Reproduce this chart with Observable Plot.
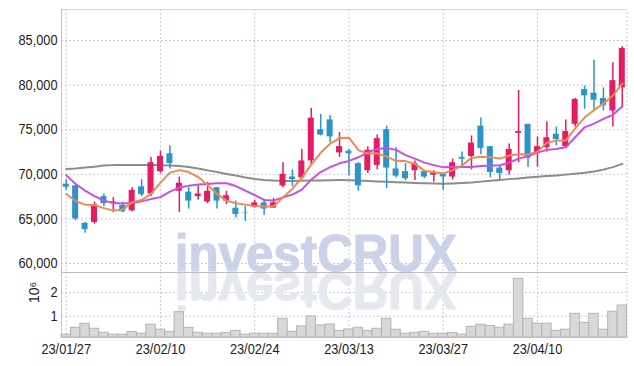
<!DOCTYPE html>
<html>
<head>
<meta charset="utf-8">
<script src="https://cdn.jsdelivr.net/npm/d3@7"></script>
<script src="https://cdn.jsdelivr.net/npm/@observablehq/plot@0.6"></script>
<style>
html, body { margin: 0; padding: 0; background: #fff; }
#chart { width: 634px; height: 366px; }
#chart svg { display: block; }
</style>
</head>
<body>
<div id="chart"></div>
<script>
// ---- data ----
const dates = [
  "23/01/27","23/01/30","23/01/31","23/02/01","23/02/02","23/02/03","23/02/06","23/02/07","23/02/08","23/02/09",
  "23/02/10","23/02/13","23/02/14","23/02/15","23/02/16","23/02/17","23/02/20","23/02/21","23/02/22","23/02/23",
  "23/02/24","23/02/27","23/02/28","23/03/02","23/03/03","23/03/06","23/03/07","23/03/08","23/03/09","23/03/10",
  "23/03/13","23/03/14","23/03/15","23/03/16","23/03/17","23/03/20","23/03/21","23/03/22","23/03/23","23/03/24",
  "23/03/27","23/03/28","23/03/29","23/03/30","23/03/31","23/04/03","23/04/04","23/04/05","23/04/06","23/04/07",
  "23/04/10","23/04/11","23/04/12","23/04/13","23/04/14","23/04/17","23/04/18","23/04/19","23/04/20","23/04/21"
];
const open = [
  68900,68700,64500,64600,67500,66700,66500,65900,68600,67800,
  70300,72300,68100,68000,67500,66900,68500,67000,66200,65650,
  66300,66800,66200,68700,69700,69600,71500,75000,76100,72400,
  72600,71200,70400,71000,75000,70600,70300,70400,70300,69900,
  70000,69700,71900,72000,75400,73100,70700,70400,74600,75600,
  72400,73000,74500,73100,75600,79500,79100,78500,77100,79700
];
const high = [
  69400,68800,64600,66900,67800,67400,66900,68500,69400,71900,
  72600,73200,69700,68500,68800,69100,68500,68100,67000,66400,
  67100,67200,67300,71300,70500,72800,77400,76700,76600,74700,
  72800,71300,73100,74400,75400,73000,71200,71500,70400,70400,
  70100,71700,72500,74300,76300,73100,71000,73400,79400,75600,
  74200,75900,75300,76100,78500,79900,82800,79700,82500,84300
];
const low = [
  68200,64800,63400,64400,66400,65700,65700,65800,67500,67500,
  70100,70600,65700,66100,67100,66700,66100,66600,65100,64700,
  66200,65400,66200,68500,68600,69400,71100,74300,73500,71900,
  69800,68100,70100,70500,68400,69600,69300,69300,69500,69100,
  68200,69400,71000,70500,72200,69600,69300,69900,71300,70800,
  70800,72500,73200,73000,75300,77300,77200,77100,75300,77600
];
const close = [
  68550,65000,63800,66600,66700,66900,65800,68200,67700,71300,
  72000,71200,69000,67000,67800,68100,67000,67600,65500,65600,
  66800,66100,66800,70000,69400,71500,76300,74400,74200,73100,
  72300,68700,72700,74000,70700,69800,69500,71200,69700,70100,
  69700,71300,71700,73500,72900,70200,70100,72800,74800,71800,
  73100,74100,73900,74800,78400,78800,78300,77700,80500,84100
];
const volume = [
  220000,510000,680000,470000,300000,220000,220000,330000,260000,640000,
  430000,340000,1170000,510000,300000,260000,260000,300000,380000,220000,
  260000,260000,260000,890000,340000,570000,990000,610000,650000,380000,
  440000,510000,380000,470000,890000,430000,260000,300000,340000,260000,
  260000,300000,220000,550000,640000,590000,510000,640000,2580000,890000,
  680000,680000,380000,430000,1100000,720000,1100000,430000,1190000,1450000
];
const maOrange = [
  67800,67000,66600,66550,66210,65930,66040,66880,67110,67800,
  69070,70190,70470,70250,69690,68790,67800,67050,66750,66600,
  66460,66380,66380,67420,68360,69630,71090,72410,73440,74060,
  74110,72710,72320,72350,71980,71510,71480,71170,70410,70220,
  70110,70470,70980,71840,71980,71910,71760,72100,72240,72210,
  72540,73530,73780,73780,75150,76360,77200,77950,78820,80170
];
const maPurple = [
  69910,68920,68170,67560,67050,66790,66720,66790,66970,67220,
  67440,68060,68510,68730,68850,68920,68990,68990,68680,68170,
  67670,67130,67050,67420,67720,68280,69410,70250,70810,71230,
  71500,71910,72470,72850,72960,72740,72150,71760,71310,71030,
  70780,70810,70830,70830,70940,71000,71010,71310,71760,72040,
  72430,72740,72850,73030,74150,75270,75680,76210,76670,77590
];
const maGray = [
  70605,70660,70750,70860,70975,71030,71050,71050,71040,71030,
  71010,70975,70920,70810,70640,70440,70250,70045,69855,69650,
  69485,69370,69295,69260,69260,69270,69295,69315,69340,69350,
  69340,69295,69250,69205,69160,69115,69070,69025,68990,68970,
  68955,68980,69025,69090,69180,69270,69370,69460,69540,69630,
  69720,69800,69875,69965,70055,70165,70325,70525,70805,71165
];
const priceTicks = [60000, 65000, 70000, 75000, 80000, 85000];
const volumeTicks = [1000000, 2000000];
const dateTicks = ["23/01/27","23/02/10","23/02/24","23/03/13","23/03/27","23/04/10"];
const watermark = "investCRUX";
const volumeUnit = "10⁶";

// ---- table ----
const rows = dates.map((d, i) => ({
  date: d, open: open[i], high: high[i], low: low[i], close: close[i],
  volume: volume[i], maOrange: maOrange[i], maPurple: maPurple[i], maGray: maGray[i]
}));

const UP = "#e31c64", DOWN = "#2d94c8";
const GRID = "#c5c9dd";
const FONT = "'Liberation Sans', Arial, sans-serif";
const priceDomain = [58990, 88480];
const volDomain = [101000, 2844000];
const W = 634, ML = 61, MR = 7.5;
const colorOf = d => d.close >= d.open ? UP : DOWN;
const fmtPrice = d3.format(",");
const fmtVol = d => String(d / 1e6);

const price = Plot.plot({
  width: W, height: 272, marginTop: 9, marginBottom: 0, marginLeft: ML, marginRight: MR,
  style: {fontFamily: FONT, fontSize: "14.5px", color: "#222", background: "transparent"},
  x: {type: "band", domain: dates, padding: 0, round: false, axis: null},
  y: {domain: priceDomain, ticks: priceTicks, tickFormat: fmtPrice, tickSize: 0, tickPadding: 4, label: null},
  marks: [
    Plot.frame({stroke: GRID, strokeDasharray: "2,2"}),
    Plot.ruleY(priceTicks, {stroke: GRID, strokeDasharray: "2,2"}),
    Plot.ruleX(dateTicks, {x: d => d, stroke: GRID, strokeDasharray: "2,2"}),
    Plot.frame({anchor: "top", stroke: "#d4d4d4"}),
    Plot.frame({anchor: "left", stroke: "#c4c4c4"}),
    Plot.text([watermark], {frameAnchor: "bottom", lineAnchor: "bottom", dx: -28, dy: -1,
      fontSize: 52, fontWeight: "bold", fill: "#ccd2e8", stroke: "#ccd2e8", strokeWidth: 1.2}),
    Plot.line(rows, {x: "date", y: "maGray", stroke: "#8c8c8c", strokeWidth: 2}),
    Plot.ruleX(rows, {x: "date", y1: "low", y2: "high", stroke: colorOf, strokeWidth: 1.5}),
    Plot.barY(rows, {x: "date", y1: "open", y2: "close", fill: colorOf, insetLeft: 1.7, insetRight: 1.7}),
    Plot.line(rows, {x: "date", y: "maPurple", stroke: "#c94ee8", strokeWidth: 2}),
    Plot.line(rows, {x: "date", y: "maOrange", stroke: "#ef8a50", strokeWidth: 2})
  ]
});

const vol = Plot.plot({
  width: W, height: 94, marginTop: 0, marginBottom: 29, marginLeft: ML, marginRight: MR,
  style: {fontFamily: FONT, fontSize: "14.5px", color: "#222", background: "transparent"},
  x: {type: "band", domain: dates, padding: 0, round: false, ticks: dateTicks, tickSize: 0, tickPadding: 6, label: null},
  y: {domain: volDomain, ticks: volumeTicks, tickFormat: fmtVol, tickSize: 0, tickPadding: 4, label: null},
  marks: [
    Plot.frame({stroke: GRID, strokeDasharray: "2,2"}),
    Plot.ruleY(volumeTicks, {stroke: GRID, strokeDasharray: "2,2"}),
    Plot.ruleX(dateTicks, {x: d => d, stroke: GRID, strokeDasharray: "2,2"}),
    Plot.text([watermark], {frameAnchor: "top", lineAnchor: "bottom",
      fontSize: 52, fontWeight: "bold", fill: "#e6e8f0", stroke: "#e6e8f0", strokeWidth: 1.2}),
    Plot.barY(rows, {x: "date", y1: volDomain[0], y2: "volume", fill: "#d8d8d8", stroke: "#b4b4b4", strokeWidth: 1}),
    Plot.frame({anchor: "top", stroke: "#bdbdbd"}),
    Plot.frame({anchor: "left", stroke: "#c4c4c4"}),
    Plot.frame({anchor: "bottom", stroke: "#bdbdbd"}),
    Plot.text([volumeUnit], {frameAnchor: "left", rotate: -90, dx: -27, dy: -2, fontSize: 14, fill: "#222"})
  ]
});

document.getElementById("chart").append(price, vol);

// ---- text post-processing ----
function squeeze(el, sx) {
  const t = el.getAttribute("transform") || "";
  const x = +(el.getAttribute("x") || 0);
  el.setAttribute("transform", `${t} translate(${x},0) scale(${sx},1) translate(${-x},0)`);
}
const axisLabels = new Set([...priceTicks.map(fmtPrice), ...volumeTicks.map(fmtVol), ...dateTicks]);
for (const svg of [price, vol]) {
  svg.querySelectorAll("text").forEach(el => {
    const s = el.textContent;
    if (axisLabels.has(s)) squeeze(el, 0.88);
    if (s === watermark) {
      el.setAttribute("textLength", 282);
      el.setAttribute("lengthAdjust", "spacingAndGlyphs");
    }
  });
}
// reflection: flip the whole group about the top edge of the volume panel
vol.querySelectorAll("text").forEach(el => {
  if (el.textContent === watermark) {
    const g = el.parentNode;
    g.setAttribute("transform", "translate(-28,1) scale(1,-1)");
  }
});
price.querySelectorAll("text").forEach(el => {
  if (el.textContent === watermark) el.parentNode.setAttribute("transform", "translate(-28,-1)");
});
</script>
</body>
</html>
